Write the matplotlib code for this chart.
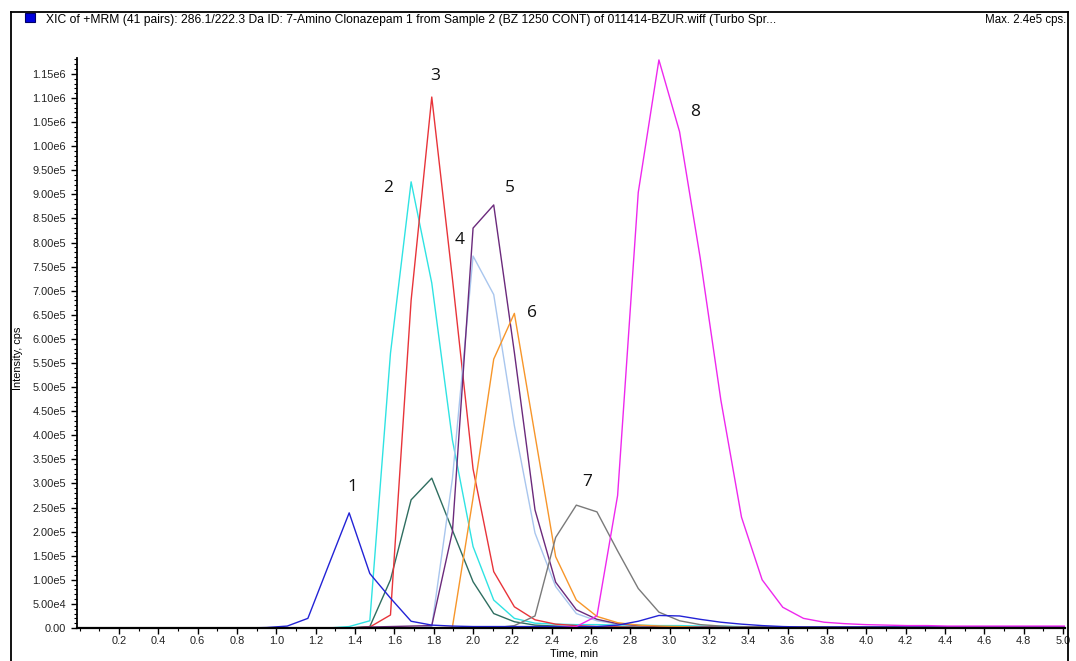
import matplotlib
matplotlib.use('Agg')
import matplotlib.pyplot as plt
from matplotlib.ticker import MultipleLocator, FuncFormatter, FixedLocator
from matplotlib.patches import Rectangle
from matplotlib.lines import Line2D
import numpy as np

# retention time grid (min)
times = [0.005, 0.110, 0.215, 0.320, 0.425, 0.530, 0.635, 0.740, 0.845, 0.950,
         1.055, 1.160, 1.265, 1.370, 1.475, 1.580, 1.685, 1.790, 1.895, 2.000,
         2.105, 2.210, 2.315, 2.420, 2.525, 2.630, 2.735, 2.840, 2.945, 3.050,
         3.155, 3.260, 3.365, 3.470, 3.575, 3.680, 3.785, 3.890, 3.995, 4.100,
         4.205, 4.310, 4.415, 4.520, 4.625, 4.730, 4.835, 4.940, 5.045]

# intensities in units of 1e5 cps
trace_1 = [0, 0, 0, 0, 0, 0, 0, 0, 0, 0.01,
           0.04, 0.20, 1.30, 2.39, 1.13, 0.62, 0.14, 0.06, 0.04, 0.03,
           0.03, 0.03, 0.03, 0.03, 0.03, 0.03, 0.06, 0.14, 0.26, 0.25,
           0.18, 0.12, 0.08, 0.05, 0.03, 0.02, 0.02, 0.02, 0.02, 0.02,
           0.02, 0.02, 0.02, 0.02, 0.02, 0.02, 0.02, 0.02, 0.02]
trace_2 = [0, 0, 0, 0, 0, 0, 0, 0, 0, 0,
           0, 0, 0, 0.03, 0.15, 5.70, 9.26, 7.16, 3.90, 1.69,
           0.58, 0.20, 0.10, 0.08, 0.07, 0.07, 0.06, 0.06, 0.05, 0.05,
           0.04, 0.04, 0.03, 0.02, 0.02, 0.02, 0.02, 0.02, 0.02, 0.02,
           0.02, 0.02, 0.02, 0.02, 0.02, 0.02, 0.02, 0.02, 0.02]
trace_3 = [0, 0, 0, 0, 0, 0, 0, 0, 0, 0,
           0, 0, 0, 0, 0.02, 0.27, 6.80, 11.02, 7.25, 3.30,
           1.17, 0.44, 0.17, 0.08, 0.05, 0.03, 0.02, 0.01, 0.01, 0.01,
           0.01, 0.01, 0.01, 0.01, 0.01, 0.01, 0.01, 0.01, 0.01, 0.01,
           0.01, 0.01, 0.01, 0.01, 0.01, 0.01, 0.01, 0.01, 0.01]
trace_teal = [0, 0, 0, 0, 0, 0, 0, 0, 0, 0,
              0, 0, 0, 0, 0.03, 1.00, 2.66, 3.11, 2.03, 0.96,
              0.30, 0.13, 0.06, 0.04, 0.02, 0.02, 0.02, 0.02, 0.02, 0.02,
              0.02, 0.02, 0.02, 0.02, 0.02, 0.02, 0.02, 0.02, 0.02, 0.02,
              0.02, 0.02, 0.02, 0.02, 0.02, 0.02, 0.02, 0.02, 0.02]
trace_4 = [0, 0, 0, 0, 0, 0, 0, 0, 0, 0,
           0, 0, 0, 0, 0, 0, 0, 0.03, 3.10, 7.72,
           6.92, 4.20, 1.97, 0.86, 0.30, 0.15, 0.08, 0.05, 0.03, 0.02,
           0.02, 0.02, 0.02, 0.02, 0.02, 0.02, 0.02, 0.02, 0.02, 0.02,
           0.02, 0.02, 0.02, 0.02, 0.02, 0.02, 0.02, 0.02, 0.02]
trace_5 = [0, 0, 0, 0, 0, 0, 0, 0, 0, 0,
           0, 0, 0, 0, 0.02, 0.03, 0.04, 0.05, 2.00, 8.30,
           8.78, 5.72, 2.45, 0.95, 0.38, 0.18, 0.09, 0.05, 0.03, 0.02,
           0.02, 0.02, 0.02, 0.02, 0.02, 0.02, 0.02, 0.02, 0.02, 0.02,
           0.02, 0.02, 0.02, 0.02, 0.02, 0.02, 0.02, 0.02, 0.02]
trace_6 = [0, 0, 0, 0, 0, 0, 0, 0, 0, 0,
           0, 0, 0, 0, 0, 0, 0, 0, 0.02, 2.70,
           5.58, 6.53, 4.00, 1.48, 0.58, 0.24, 0.11, 0.06, 0.04, 0.03,
           0.01, 0.01, 0.01, 0.01, 0.01, 0.01, 0.01, 0.01, 0.01, 0.01,
           0.01, 0.01, 0.01, 0.01, 0.01, 0.01, 0.01, 0.01, 0.01]
trace_7 = [0, 0, 0, 0, 0, 0, 0, 0, 0, 0,
           0, 0, 0, 0, 0, 0, 0, 0, 0, 0,
           0, 0.05, 0.25, 1.88, 2.55, 2.41, 1.60, 0.82, 0.33, 0.15,
           0.07, 0.04, 0.02, 0.02, 0.02, 0.02, 0.02, 0.02, 0.02, 0.02,
           0.02, 0.02, 0.02, 0.02, 0.02, 0.02, 0.02, 0.02, 0.02]
trace_8 = [0, 0, 0, 0, 0, 0, 0, 0, 0, 0,
           0, 0, 0, 0, 0, 0, 0, 0, 0, 0,
           0, 0, 0, 0, 0.03, 0.25, 2.75, 9.04, 11.79, 10.30,
           7.68, 4.73, 2.30, 1.00, 0.43, 0.20, 0.12, 0.09, 0.07, 0.06,
           0.05, 0.05, 0.04, 0.04, 0.04, 0.04, 0.04, 0.04, 0.04]

peak_names = ['1', '2', '3', '4', '5', '6', '7', '8']
peak_label_t = [1.385, 1.567, 1.806, 1.934, 2.188, 2.300, 2.580, 3.128]
peak_label_i = [2.93, 9.13, 11.46, 8.05, 9.13, 6.54, 3.03, 10.71]

title_text = ('XIC of +MRM (41 pairs): 286.1/222.3 Da ID: 7-Amino Clonazepam 1 from '
              'Sample 2 (BZ 1250 CONT) of 011414-BZUR.wiff (Turbo Spr...')

W, H = 1076, 661
plt.rcParams['font.family'] = ['Liberation Sans', 'DejaVu Sans']

fig = plt.figure(figsize=(W / 100, H / 100), dpi=100)
ax = fig.add_axes([77 / W, 1 - 628 / H, (1065 - 77) / W, (628 - 58) / H])

t = np.array(times)
series = [
    (trace_teal, '#2f6e60'),
    (trace_2, '#2fe3e3'),
    (trace_3, '#e8343a'),
    (trace_4, '#a9c6ee'),
    (trace_5, '#6b2a7c'),
    (trace_6, '#f7962a'),
    (trace_7, '#7a7a7a'),
    (trace_1, '#2323d6'),
    (trace_8, '#ee28ee'),
]
for vals, col in series:
    ax.plot(t, np.array(vals) * 1e5, color=col, lw=1.0, zorder=2)

for name, pt, pi in zip(peak_names, peak_label_t, peak_label_i):
    ax.text(pt, pi * 1e5, name, fontsize=12.5, family=['Open Sans', 'DejaVu Sans'],
            ha='center', va='center', color='#111111')

ax.set_xlim(-0.014, 5.01)
ax.set_ylim(0, 11.83e5)

for s in ['top', 'right']:
    ax.spines[s].set_visible(False)
ax.spines['left'].set_linewidth(1.3)
ax.spines['bottom'].set_linewidth(1.6)
ax.spines['left'].set_zorder(3)
ax.spines['bottom'].set_zorder(3)

ax.xaxis.set_major_locator(FixedLocator(np.arange(0.2, 5.01, 0.2)))
ax.xaxis.set_minor_locator(MultipleLocator(0.1))
ax.xaxis.set_major_formatter(FuncFormatter(lambda v, p: f'{v:.1f}'))

def yfmt(v, pos):
    if v <= 0:
        return '0.00'
    e = int(np.floor(np.log10(v) + 1e-9))
    m = v / 10 ** e
    return f'{m:.2f}e{e}'

ax.yaxis.set_major_locator(FixedLocator(np.arange(0, 11.6e5, 0.5e5)))
ax.yaxis.set_minor_locator(MultipleLocator(1e4))
ax.yaxis.set_major_formatter(FuncFormatter(yfmt))

ax.tick_params(axis='both', which='major', labelsize=7.9, length=4, width=1,
               direction='out', pad=2, colors='black')
ax.tick_params(axis='y', which='major', pad=4)
ax.tick_params(axis='both', which='minor', length=2, width=0.8, direction='out')
for lab in ax.get_xticklabels() + ax.get_yticklabels():
    lab.set_color('#222222')

fig.text(574 / W, 1 - 654 / H, 'Time, min', fontsize=7.9, ha='center', va='center')
fig.text(18 / W, 1 - 358 / H, 'Intensity, cps', fontsize=7.9, rotation=90,
         ha='center', va='center')

# header strip and frame
fig.add_artist(Line2D([11 / W, 1068 / W], [1 - 12 / H, 1 - 12 / H], color='black', lw=1.3))
fig.add_artist(Line2D([11 / W, 11 / W], [0, 1 - 12 / H], color='black', lw=1.3))
fig.add_artist(Line2D([1068 / W, 1068 / W], [0, 1 - 12 / H], color='black', lw=1.3))
fig.add_artist(Rectangle((25 / W, 1 - 22 / H), 10 / W, 9 / H, facecolor='#0000dd',
                         edgecolor='#000066', lw=0.8))
fig.text(46 / W, 1 - 20 / H, title_text, fontsize=8.7, ha='left', va='center')
fig.text(1066 / W, 1 - 20 / H, 'Max. 2.4e5 cps.', fontsize=8.3, ha='right', va='center')

fig.savefig('out.png', dpi=100)
